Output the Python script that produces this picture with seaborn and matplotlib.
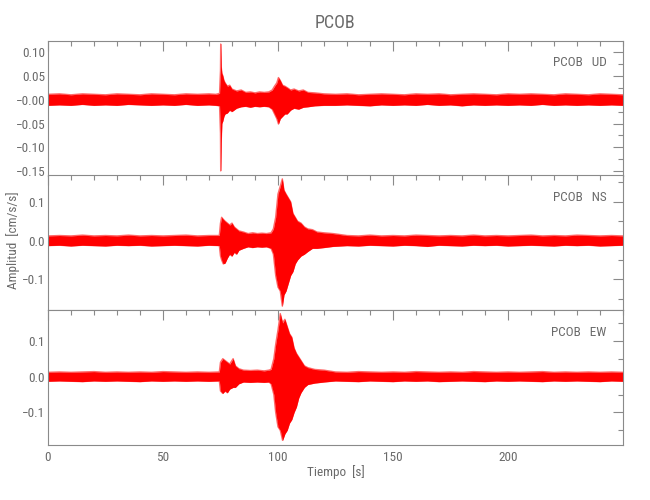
import matplotlib
matplotlib.use("Agg")
import matplotlib.pyplot as plt
import matplotlib.font_manager as fm
from matplotlib.ticker import MultipleLocator, FixedLocator, FixedFormatter
import numpy as np
import pandas as pd
import seaborn as sns

# ---------------- data (envelope of each trace) ----------------
station = "PCOB"
components = ["UD", "NS", "EW"]

# time knots [s]
t_ud = [0, 5, 10, 15, 20, 25, 30, 35, 40, 45, 50, 55, 60, 65, 70, 73,
        74.6, 75.0, 75.1, 75.3, 75.6, 76.0, 76.5, 77.0, 78.0, 79.0, 80.0,
        82, 84, 86, 88, 90, 92, 94, 96,
        97.5, 98.5, 99.5, 100.2, 101, 102, 103, 104, 105.5, 107, 109, 111, 113, 116, 120,
        125, 130, 135, 140, 145, 150, 155, 160, 165, 170, 175, 180, 185, 190, 195, 200,
        205, 210, 215, 220, 225, 230, 235, 240, 245, 250]
up_ud = [0.011, 0.012, 0.010, 0.012, 0.011, 0.010, 0.012, 0.011, 0.010, 0.012, 0.011, 0.010, 0.012, 0.011, 0.012, 0.011,
         0.013, 0.060, 0.116, 0.070, 0.055, 0.050, 0.040, 0.035, 0.028, 0.030, 0.022,
         0.018, 0.020, 0.015, 0.016, 0.014, 0.016, 0.015, 0.016,
         0.020, 0.028, 0.035, 0.046, 0.040, 0.030, 0.028, 0.025, 0.020, 0.022, 0.018, 0.020, 0.015, 0.014, 0.012,
         0.011, 0.012, 0.010, 0.011, 0.012, 0.011, 0.010, 0.012, 0.011, 0.012, 0.010, 0.011, 0.012, 0.011, 0.010, 0.012,
         0.011, 0.012, 0.011, 0.010, 0.012, 0.011, 0.010, 0.012, 0.011, 0.010]
lo_ud = [-0.012, -0.011, -0.012, -0.010, -0.012, -0.011, -0.012, -0.010, -0.011, -0.012, -0.011, -0.012, -0.010, -0.012, -0.011, -0.012,
         -0.013, -0.070, -0.149, -0.090, -0.050, -0.045, -0.035, -0.030, -0.028, -0.022, -0.025,
         -0.018, -0.015, -0.014, -0.016, -0.014, -0.015, -0.014, -0.015,
         -0.020, -0.030, -0.040, -0.051, -0.040, -0.035, -0.030, -0.030, -0.022, -0.018, -0.020, -0.016, -0.015, -0.013, -0.012,
         -0.012, -0.011, -0.012, -0.013, -0.011, -0.012, -0.011, -0.012, -0.010, -0.012, -0.011, -0.013, -0.011, -0.012, -0.011, -0.012,
         -0.011, -0.012, -0.010, -0.012, -0.011, -0.012, -0.011, -0.012, -0.011, -0.012]

t_ns = [0, 5, 10, 15, 20, 25, 30, 35, 40, 45, 50, 55, 60, 65, 70, 74.5,
        75.0, 75.5, 76.2, 77, 78, 79, 80, 81, 82, 83, 85,
        87, 89, 91, 93, 95,
        97, 98, 99, 100, 101, 101.9, 102.6, 103.5, 104.5, 105.5, 106.5, 107.5, 108.5, 110, 111.5, 113, 115, 117, 120,
        124,
        130, 135, 140, 145, 150, 155, 160, 165, 170, 175, 180, 185, 190, 195, 200,
        205, 210, 215, 220, 225, 230, 235, 240, 245, 250]
up_ns = [0.012, 0.013, 0.012, 0.014, 0.012, 0.013, 0.012, 0.014, 0.012, 0.013, 0.012, 0.013, 0.014, 0.012, 0.013, 0.013,
         0.045, 0.060, 0.055, 0.050, 0.045, 0.040, 0.045, 0.035, 0.030, 0.025, 0.022,
         0.018, 0.020, 0.018, 0.019, 0.018,
         0.020, 0.030, 0.060, 0.120, 0.140, 0.159, 0.130, 0.120, 0.110, 0.100, 0.070, 0.060, 0.050, 0.045, 0.035, 0.030, 0.028, 0.022, 0.020,
         0.018,
         0.013, 0.012, 0.014, 0.012, 0.013, 0.012, 0.014, 0.013, 0.012, 0.013, 0.012, 0.014, 0.012, 0.013, 0.012,
         0.013, 0.014, 0.012, 0.013, 0.012, 0.014, 0.013, 0.012, 0.013, 0.012]
lo_ns = [-0.013, -0.012, -0.014, -0.012, -0.013, -0.014, -0.012, -0.013, -0.012, -0.014, -0.013, -0.012, -0.013, -0.014, -0.012, -0.013,
         -0.040, -0.050, -0.060, -0.058, -0.045, -0.035, -0.040, -0.030, -0.035, -0.025, -0.020,
         -0.016, -0.018, -0.016, -0.017, -0.016,
         -0.020, -0.035, -0.090, -0.120, -0.130, -0.169, -0.140, -0.130, -0.110, -0.090, -0.080, -0.060, -0.050, -0.040, -0.035, -0.028, -0.020, -0.020, -0.018,
         -0.015,
         -0.013, -0.014, -0.012, -0.013, -0.014, -0.012, -0.013, -0.015, -0.012, -0.013, -0.014, -0.012, -0.013, -0.012, -0.014,
         -0.013, -0.012, -0.013, -0.014, -0.012, -0.013, -0.012, -0.014, -0.013, -0.012]

t_ew = [0, 5, 10, 15, 20, 25, 30, 35, 40, 45, 50, 55, 60, 65, 70, 74.5,
        75, 76, 77, 78, 79, 80.5, 81.5, 83,
        85, 88, 91, 94, 96,
        97, 98.2, 99, 100, 101, 102, 103, 104, 105, 106, 107, 108, 109, 110, 111.5, 113, 116, 120,
        125, 130, 135, 140, 145, 150, 155, 160, 165, 170, 175, 180, 185, 190, 195, 200,
        205, 210, 215, 220, 225, 230, 235, 240, 245, 250]
up_ew = [0.012, 0.013, 0.012, 0.013, 0.014, 0.012, 0.013, 0.012, 0.013, 0.012, 0.014, 0.013, 0.012, 0.013, 0.012, 0.013,
         0.040, 0.050, 0.045, 0.040, 0.035, 0.050, 0.030, 0.022,
         0.018, 0.017, 0.018, 0.016, 0.018,
         0.020, 0.050, 0.090, 0.130, 0.176, 0.150, 0.160, 0.140, 0.120, 0.110, 0.080, 0.065, 0.055, 0.045, 0.030, 0.025, 0.020, 0.018,
         0.013, 0.012, 0.014, 0.013, 0.012, 0.013, 0.012, 0.014, 0.013, 0.012, 0.013, 0.012, 0.014, 0.013, 0.012, 0.013,
         0.012, 0.013, 0.014, 0.012, 0.013, 0.012, 0.013, 0.012, 0.013, 0.012]
lo_ew = [-0.013, -0.012, -0.013, -0.014, -0.012, -0.013, -0.012, -0.013, -0.014, -0.012, -0.013, -0.012, -0.013, -0.012, -0.013, -0.012,
         -0.040, -0.047, -0.040, -0.045, -0.035, -0.030, -0.030, -0.020,
         -0.015, -0.016, -0.015, -0.016, -0.015,
         -0.020, -0.050, -0.100, -0.140, -0.150, -0.178, -0.160, -0.150, -0.130, -0.120, -0.100, -0.085, -0.060, -0.045, -0.030, -0.022, -0.018, -0.015,
         -0.012, -0.013, -0.014, -0.012, -0.013, -0.014, -0.012, -0.013, -0.012, -0.014, -0.013, -0.012, -0.013, -0.014, -0.012, -0.013,
         -0.012, -0.013, -0.014, -0.012, -0.013, -0.012, -0.013, -0.014, -0.012, -0.013]

# axis ticks / labels
yticks_ud = [0.10, 0.05, 0.0, -0.05, -0.10, -0.15]
ylabels_ud = ["0.10", "0.05", "\u22120.00", "\u22120.05", "\u22120.10", "\u22120.15"]
yticks_3c = [0.1, 0.0, -0.1]
ylabels_3c = ["0.1", "0.0", "\u22120.1"]
xticks = [0, 50, 100, 150, 200]
xlabels = ["0", "50", "100", "150", "200"]

# ---------------- style ----------------
sns.set_theme(style="white")
available = {f.name for f in fm.fontManager.ttflist}
family = "DejaVu Sans"
for cand in ["Liberation Sans Narrow", "Roboto Condensed", "Open Sans Condensed",
             "DejaVu Sans Condensed", "Noto Sans Condensed"]:
    if cand in available:
        family = cand
        break
condensed = family != "DejaVu Sans"
plt.rcParams["font.family"] = [family, "DejaVu Sans"]
k = 1.0 if condensed else 0.85

AX_COL = "#8a8a8a"
TXT_COL = "#6a6a6a"
TRACE = "#ff0000"
EDGE = "#ff6a6a"

fig = plt.figure(figsize=(6.5, 5), dpi=100)

panels = [
    (t_ud, up_ud, lo_ud, "UD", (-0.159, 0.123), yticks_ud, ylabels_ud, 0.025, 0.6486),
    (t_ns, up_ns, lo_ns, "NS", (-0.179, 0.169), yticks_3c, ylabels_3c, 0.05, 0.38),
    (t_ew, up_ew, lo_ew, "EW", (-0.191, 0.186), yticks_3c, ylabels_3c, 0.05, 0.11),
]

for i, (t, up, lo, comp, ylim, yt, yl, ymin_step, bottom) in enumerate(panels):
    ax = fig.add_axes([0.0738, bottom, 0.8846, 0.27])
    n = len(t)
    df = pd.DataFrame({"t": list(t) + list(t),
                       "a": list(up) + list(lo),
                       "edge": ["up"] * n + ["lo"] * n})
    sns.lineplot(data=df, x="t", y="a", units="edge", estimator=None,
                 color=EDGE, lw=1.0, ax=ax, legend=False, zorder=1)
    ax.fill_between(t, lo, up, color=TRACE, lw=0, zorder=2)
    ax.set_xlim(0, 250)
    ax.set_ylim(*ylim)
    ax.set_xlabel("")
    ax.set_ylabel("")
    ax.xaxis.set_major_locator(FixedLocator(xticks))
    ax.xaxis.set_major_formatter(FixedFormatter(xlabels))
    ax.xaxis.set_minor_locator(MultipleLocator(10))
    ax.yaxis.set_major_locator(FixedLocator(yt))
    ax.yaxis.set_major_formatter(FixedFormatter(yl))
    ax.yaxis.set_minor_locator(MultipleLocator(ymin_step))
    ax.tick_params(which="both", direction="in", top=True, right=True,
                   colors=AX_COL, labelcolor=TXT_COL, width=0.8, labelsize=9.5 * k)
    ax.tick_params(which="major", length=7, pad=2)
    ax.tick_params(which="minor", length=3.5)
    if i < 2:
        ax.tick_params(labelbottom=False)
    else:
        ax.tick_params(axis="x", pad=4)
    for sp in ax.spines.values():
        sp.set_color(AX_COL)
        sp.set_linewidth(0.8)
    ax.text(0.972, 0.836, f"{station}   {comp}", transform=ax.transAxes,
            ha="right", va="center", fontsize=9.5 * k, color=TXT_COL)

fig.text(0.516, 0.953, station, ha="center", va="center", fontsize=13 * k, color=TXT_COL)
fig.text(0.02, 0.52, "Amplitud  [cm/s/s]", rotation=90, ha="center", va="center",
         fontsize=9.5 * k, color=TXT_COL)
fig.text(0.516, 0.056, "Tiempo  [s]", ha="center", va="center", fontsize=9.5 * k, color=TXT_COL)

fig.savefig("out.png", dpi=100)
